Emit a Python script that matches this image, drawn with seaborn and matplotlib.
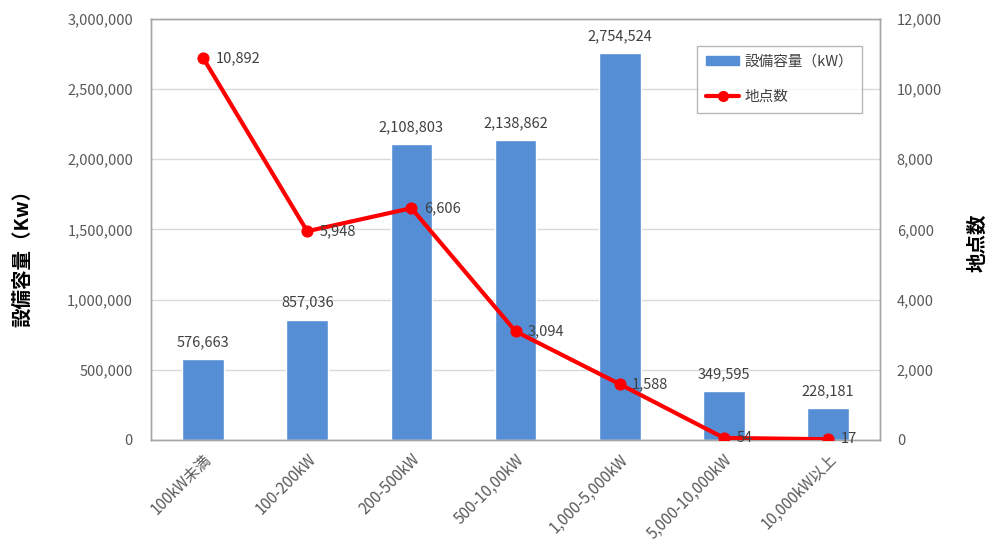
import matplotlib
matplotlib.use("Agg")
import matplotlib.pyplot as plt
import seaborn as sns
import numpy as np
import pandas as pd
from matplotlib.ticker import FuncFormatter
from matplotlib.lines import Line2D
from matplotlib.patches import Patch

categories = ["100kW未満", "100-200kW", "200-500kW", "500-10,00kW",
              "1,000-5,000kW", "5,000-10,000kW", "10,000kW以上"]
capacity_kw = [576663, 857036, 2108803, 2138862, 2754524, 349595, 228181]
site_counts = [10892, 5948, 6606, 3094, 1588, 54, 17]

sns.set_theme(style="white")
plt.rcParams["font.family"] = ["Noto Sans CJK JP", "DejaVu Sans"]

BAR_COLOR = "#558ED5"
LINE_COLOR = "#FF0000"
TEXT_GRAY = "#595959"
LABEL_GRAY = "#404040"
GRID_GRAY = "#D9D9D9"
FRAME_GRAY = "#A6A6A6"

df = pd.DataFrame({"cat": categories, "cap": capacity_kw, "n": site_counts})

fig = plt.figure(figsize=(9.9, 5.43), dpi=100)
ax = fig.add_axes([0.1525, 0.19, 0.7365, 0.775])

# bars: installed capacity (left axis)
sns.barplot(data=df, x="cat", y="cap", color=BAR_COLOR, width=0.4,
            saturation=1, ax=ax, zorder=2)
ax.set_ylim(0, 3000000)
ax.set_xlim(-0.5, len(categories) - 0.5)
ax.set_yticks(np.arange(0, 3000001, 500000))
ax.yaxis.set_major_formatter(FuncFormatter(lambda v, p: f"{int(v):,}"))
ax.grid(axis="y", color=GRID_GRAY, linewidth=1, zorder=0)
ax.set_axisbelow(True)
ax.set_xlabel("")
ax.set_ylabel("")
ax.tick_params(axis="y", colors=TEXT_GRAY, labelsize=10.5, length=0, pad=13)
ax.tick_params(axis="x", colors=TEXT_GRAY, labelsize=11, length=0, pad=8)
for lbl in ax.get_xticklabels():
    lbl.set_rotation(45)
    lbl.set_ha("right")
    lbl.set_rotation_mode("anchor")
    lbl.set_color(TEXT_GRAY)
for s in ax.spines.values():
    s.set_color(FRAME_GRAY)
    s.set_linewidth(1)

for i, v in enumerate(capacity_kw):
    ax.text(i, v + 70000, f"{v:,}", ha="center", va="bottom",
            fontsize=10.5, color=LABEL_GRAY)

# line: number of sites (right axis)
ax2 = ax.twinx()
sns.lineplot(x=np.arange(len(categories)), y=site_counts, ax=ax2,
             color=LINE_COLOR, linewidth=3, marker="o", markersize=8,
             markeredgecolor=LINE_COLOR, zorder=3)
ax2.set_ylim(0, 12000)
ax2.set_yticks(np.arange(0, 12001, 2000))
ax2.yaxis.set_major_formatter(FuncFormatter(lambda v, p: f"{int(v):,}"))
ax2.tick_params(axis="y", colors=TEXT_GRAY, labelsize=10.5, length=0, pad=12)
ax2.set_ylabel("")
ax2.grid(False)
for s in ax2.spines.values():
    s.set_color(FRAME_GRAY)
    s.set_linewidth(1)
ax2.set_xlim(-0.5, len(categories) - 0.5)

for i, v in enumerate(site_counts):
    ax2.text(i + 0.12, v, f"{v:,}", ha="left", va="center",
             fontsize=10.5, color=LABEL_GRAY)

# axis titles
fig.text(22 / 990, 1 - 253 / 543, "設備容量（Kw）", rotation=90, ha="center",
         va="center", fontsize=14, fontweight="bold", color="black")
fig.text(978 / 990, 1 - 243 / 543, "地点数", rotation=90, ha="center",
         va="center", fontsize=14, fontweight="bold", color="black")

handles = [Patch(facecolor=BAR_COLOR, edgecolor=BAR_COLOR),
           Line2D([0], [0], color=LINE_COLOR, linewidth=3, marker="o", markersize=7)]
leg = ax2.legend(handles, ["設備容量（kW）", "地点数"], loc="upper right",
                 bbox_to_anchor=(0.975, 0.936), borderaxespad=0, fontsize=10.5,
                 frameon=True, fancybox=False, edgecolor=FRAME_GRAY,
                 handlelength=2.3, handleheight=0.55, handletextpad=0.35,
                 labelspacing=1.45, borderpad=0.6)
leg.get_frame().set_linewidth(1)
for t in leg.get_texts():
    t.set_color(LABEL_GRAY)

fig.savefig("out.png", dpi=100)
